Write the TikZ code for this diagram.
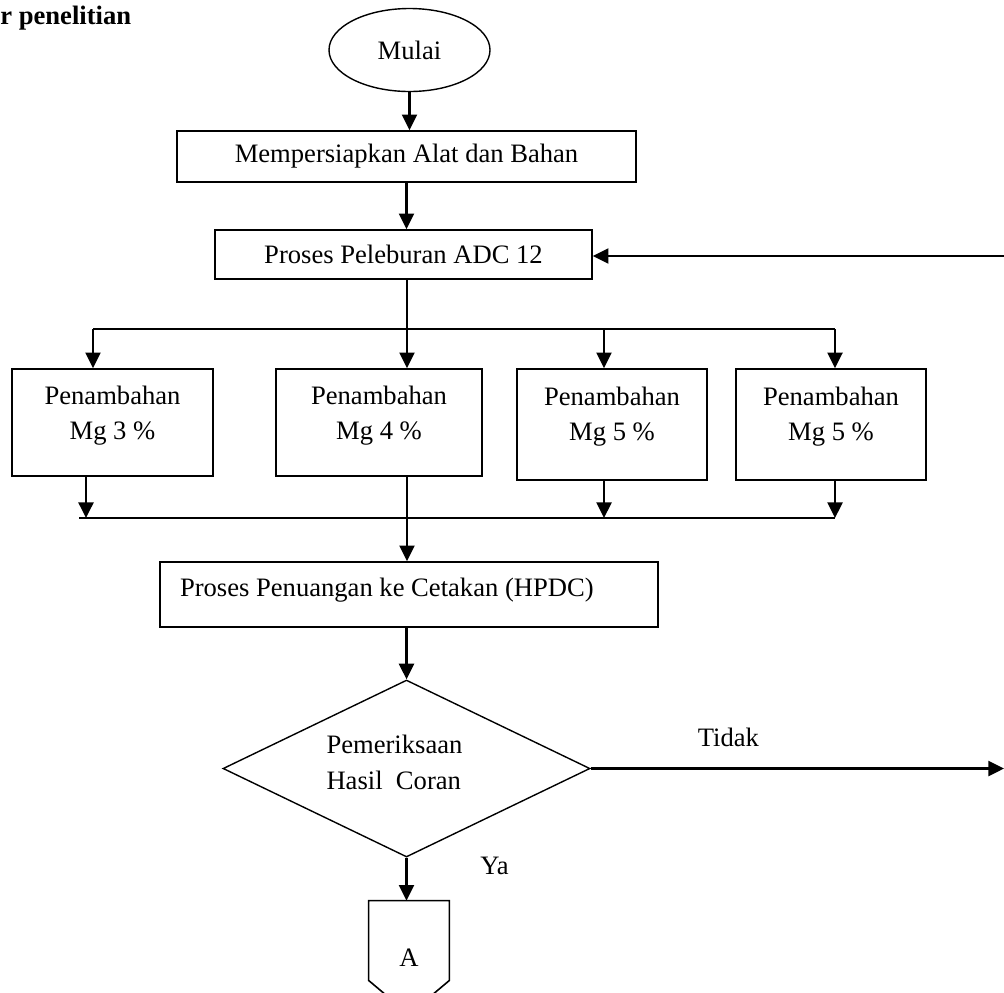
\documentclass[tikz,border=0pt]{standalone}
\usepackage{fontspec}
\setmainfont{Liberation Serif}
\usetikzlibrary{arrows.meta,shapes.geometric}

\begin{document}
\begin{tikzpicture}[
  x=0.5pt,y=-0.5pt,
  font=\fontsize{13.3}{17.5}\selectfont,
  kotak/.style={draw,line width=0.8pt,align=center,inner sep=0pt},
  tambah/.style={kotak,minimum width=#1,minimum height=53.5pt,text depth=10.1pt},
  panah/.style={-{Triangle[length=7.8pt,width=7.5pt]},line width=1.1pt},
  garis/.style={line width=1.1pt}
]
\useasboundingbox (0,0) rectangle (1004,992);
\node[anchor=base west,inner sep=0pt,font=\fontsize{13.3}{16}\selectfont\bfseries] (judul) at (0,24) {r penelitian};
\node[draw,ellipse,line width=0.7pt,minimum width=80.5pt,minimum height=41.5pt,inner sep=0pt] (mulai) at (409.5,50) {Mulai};
\node[kotak,minimum width=229.5pt,minimum height=25.5pt] (siap) at (406.5,156.5) {Mempersiapkan Alat dan Bahan};
\node[kotak,minimum width=188.5pt,minimum height=24.5pt] (lebur) at (403.5,254.5) {Proses Peleburan ADC 12};
\node[tambah=100.5pt] (mg3) at (112.5,422.5) {Penambahan\\Mg 3 \%};
\node[tambah=103pt] (mg4) at (379,422.5) {Penambahan\\Mg 4 \%};
\node[tambah=95pt,minimum height=55.5pt,text depth=11.1pt] (mg5a) at (612,424.5) {Penambahan\\Mg 5 \%};
\node[tambah=95pt,minimum height=55.5pt,text depth=11.1pt] (mg5b) at (831,424.5) {Penambahan\\Mg 5 \%};
\node[kotak,minimum width=249pt,minimum height=32.5pt,text width=229pt,align=flush left,text depth=7pt] (tuang) at (409,594.5) {Proses Penuangan ke Cetakan (HPDC)};
\node[draw,diamond,line width=0.7pt,aspect=2,minimum width=183.5pt,minimum height=88.5pt,inner sep=0pt,
  text width=80pt,align=flush left,font=\fontsize{13.3}{18}\selectfont,text depth=24.6pt] (periksa) at (406.5,768.5) {Pemeriksaan\\Hasil\ \ Coran};
\node[minimum width=40pt,minimum height=56.5pt,inner sep=0pt] (konA) at (409,957.5) {A};
\draw[line width=0.8pt] ([yshift=17pt]konA.south west) -- (konA.north west) -- (konA.north east)
  -- ([yshift=17pt]konA.south east) -- (konA.south) -- cycle;

% titik bantu percabangan
\coordinate (s1) at (93,329);
\coordinate (s2) at (407,329);
\coordinate (s3) at (604,329);
\coordinate (s4) at (835,329);
\coordinate (g0) at (79,518);
\coordinate (g1) at (86,518);
\coordinate (g2) at (407,518);
\coordinate (g3) at (604,518);
\coordinate (g4) at (835,518);
\coordinate (balik) at (1004,256);
\coordinate (tidak) at (1004,768.5);

\draw[panah] (mulai.south) -- (mulai.south |- siap.north);
\draw[panah] (siap.south) -- (siap.south |- lebur.north);
\draw[panah] (balik) -- (balik -| lebur.east);
\draw[garis] (lebur.south -| s2) -- (s2);
\draw[garis] (s1) -- (s4);
\foreach \t/\b in {s1/mg3,s2/mg4,s3/mg5a,s4/mg5b}
  \draw[panah] (\t) -- (\t |- \b.north);
\draw[panah] (mg3.south -| g1) -- (g1);
\draw[panah] (mg5a.south -| g3) -- (g3);
\draw[panah] (mg5b.south -| g4) -- (g4);
\draw[garis] (g0) -- (g4);
\draw[panah] (mg4.south -| g2) -- (g2 |- tuang.north);
\draw[panah] (periksa.north |- tuang.south) -- (periksa.north);
\draw[panah] (periksa.east) -- (tidak) node[pos=0.333,above=7pt] (lbltidak) {Tidak};
\draw[panah] (periksa.south) -- (periksa.south |- konA.north) node[pos=0.2,right=33pt] (lblya) {Ya};
\end{tikzpicture}
\end{document}
